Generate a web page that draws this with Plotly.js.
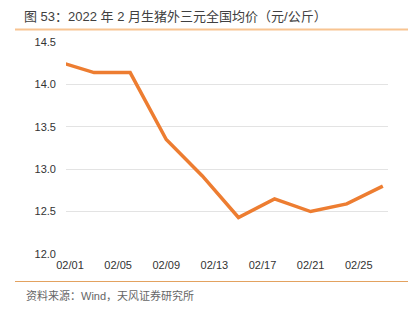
<!DOCTYPE html>
<html>
<head>
<meta charset="utf-8">
<script src="https://cdn.plot.ly/plotly-3.0.1.min.js"></script>
<style>html,body{margin:0;padding:0;background:#fff;}#chart{width:418px;height:312px;}</style>
</head>
<body>
<div id="chart"></div>
<script>
// Data
const dates = ['2022-01-31','2022-02-03','2022-02-06','2022-02-09','2022-02-12','2022-02-15','2022-02-18','2022-02-21','2022-02-24','2022-02-27'];
const prices = [14.27, 14.14, 14.14, 13.35, 12.92, 12.43, 12.65, 12.50, 12.59, 12.80];
const tickDates = ['2022-02-01','2022-02-05','2022-02-09','2022-02-13','2022-02-17','2022-02-21','2022-02-25'];
const tickLabels = ['02/01','02/05','02/09','02/13','02/17','02/21','02/25'];
const yTicks = [12.0, 12.5, 13.0, 13.5, 14.0, 14.5];
const yLabels = ['12.0','12.5','13.0','13.5','14.0','14.5'];
const titleText = '图 53：2022 年 2 月生猪外三元全国均价（元/公斤）';
const sourceText = '资料来源：Wind，天风证券研究所';

const W = 418, H = 312;
const m = {l: 66, r: 30, t: 42, b: 58};
const pw = W - m.l - m.r, ph = H - m.t - m.b;
const px = x => (x - m.l) / pw;
const py = y => (H - m.b - y) / ph;

const FONT = 'Liberation Sans, Arial, Noto Sans CJK SC, sans-serif';

const trace = {
  x: dates, y: prices, type: 'scatter', mode: 'lines',
  line: {color: '#ED7D31', width: 3.5},
  hoverinfo: 'skip'
};

const layout = {
  width: W, height: H,
  margin: m,
  paper_bgcolor: '#fff', plot_bgcolor: '#fff',
  showlegend: false,
  font: {family: FONT, color: '#333', size: 11},
  title: {
    text: titleText,
    font: {family: 'Liberation Sans, Noto Sans CJK SC, sans-serif', size: 13, color: '#404040'},
    xref: 'container', yref: 'container',
    x: 24 / W, xanchor: 'left', y: 1 - 16 / H, yanchor: 'middle'
  },
  xaxis: {
    type: 'date',
    range: ['2022-01-31 16:00', '2022-02-27 10:20'],
    tickvals: tickDates, ticktext: tickLabels,
    showgrid: false, zeroline: false, showline: false, ticks: '',
    tickfont: {size: 11, color: '#333'},
    ticklabelstandoff: 3
  },
  yaxis: {
    range: [11.999, 14.501],
    tickvals: yTicks, ticktext: yLabels,
    showgrid: true, gridcolor: '#e3e3e3', gridwidth: 1,
    zeroline: false, showline: false, ticks: '',
    tickfont: {size: 11, color: '#333'},
    ticklabelstandoff: 9
  },
  shapes: [
    {type: 'line', xref: 'paper', yref: 'paper', x0: px(15), x1: px(408), y0: py(29.5), y1: py(29.5),
     line: {color: '#F8C491', width: 2}},
    {type: 'line', xref: 'paper', yref: 'paper', x0: px(15), x1: px(408), y0: py(281.5), y1: py(281.5),
     line: {color: '#E3A260', width: 1.2}}
  ],
  annotations: [
    {text: sourceText, xref: 'paper', yref: 'paper', x: px(24), y: py(295), xanchor: 'left', yanchor: 'middle',
     showarrow: false, font: {family: 'Liberation Sans, Noto Sans CJK SC, sans-serif', size: 11, color: '#666'}}
  ]
};

Plotly.newPlot('chart', [trace], layout, {staticPlot: true, displayModeBar: false});
</script>
</body>
</html>
